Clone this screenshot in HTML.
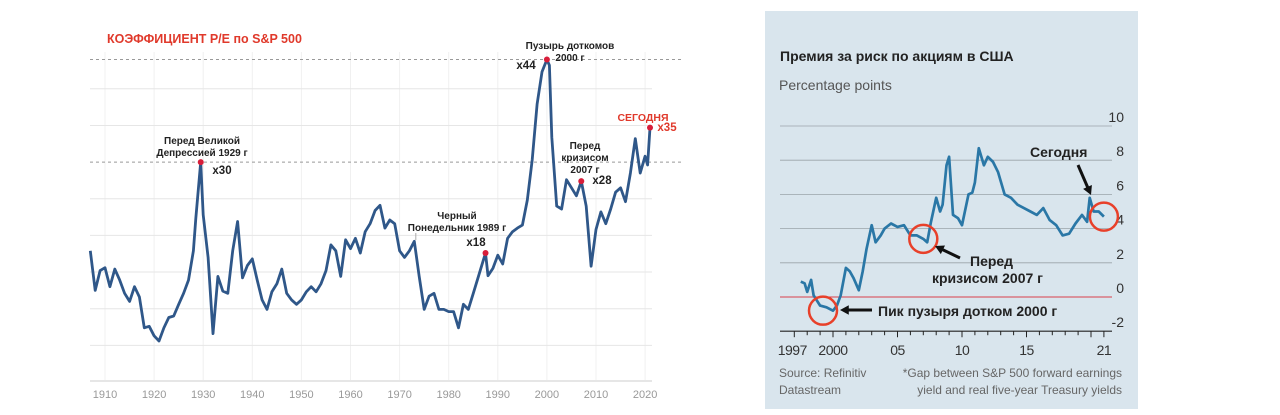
<!DOCTYPE html>
<html><head><meta charset="utf-8"><style>
html,body{margin:0;padding:0;background:#fff;}
svg{display:block;font-family:"Liberation Sans","Noto Sans CJK SC",sans-serif;}
</style></head><body>
<svg id="root" width="1280" height="415" viewBox="0 0 1280 415">
<g id="left">
<text x="107" y="43" fill="#e0392b" font-size="12.5" font-weight="bold">КОЭФФИЦИЕНТ P/E по S&amp;P 500</text>
</g>
<g id="right">
<rect x="765" y="11" width="373" height="398" fill="#d9e5ed"/>
<text x="780" y="61" fill="#222" font-size="14" font-weight="bold">Премия за риск по акциям в США</text>
<text x="779" y="90" fill="#555" font-size="14">Percentage points</text>
<text x="779" y="377" fill="#666" font-size="12">Source: Refinitiv</text>
<text x="779" y="394" fill="#666" font-size="12">Datastream</text>
<text x="1122" y="377" fill="#666" font-size="12" text-anchor="end">*Gap between S&amp;P 500 forward earnings</text>
<text x="1122" y="394" fill="#666" font-size="12" text-anchor="end">yield and real five-year Treasury yields</text>
</g>
</svg>
<script>
// ---- Left chart data ----
const peYears=[1907,1908,1909,1910,1911,1912,1913,1914,1915,1916,1917,1918,1919,1920,1921,1922,1923,1924,1925,1926,1927,1928,1928.5,1929.5,1930,1931,1932,1933,1934,1935,1936,1937,1938,1939,1940,1941,1942,1943,1944,1945,1946,1947,1948,1949,1950,1951,1952,1953,1954,1955,1956,1957,1958,1959,1960,1961,1962,1963,1964,1965,1966,1967,1968,1969,1970,1971,1972,1973,1974,1975,1976,1977,1978,1979,1980,1981,1982,1983,1984,1985,1986,1987.5,1988,1989,1990,1991,1992,1993,1994,1995,1996,1997,1998,1999,2000,2000.5,2001,2002,2003,2004,2005,2006,2007,2008,2009,2010,2011,2012,2013,2014,2015,2016,2017,2018,2019,2020,2020.5,2021];
const peValues=[17.9,12.5,15.2,15.6,13,15.4,13.9,12.1,11,13,11.6,7.4,7.6,6.3,5.6,7.4,8.8,9,10.6,12.1,13.9,17.9,22.3,30,22.8,17,6.6,14.4,12.4,12.1,17.9,21.9,14.2,15.9,16.8,13.9,11.2,9.9,12.3,13.4,15.4,12.1,11.2,10.6,11.2,12.3,13,12.3,13.4,15.2,18.7,17.9,14.4,19.4,18.2,19.6,17.6,20.5,21.6,23.4,24.1,21,22.1,21.6,17.9,17,17.9,19.2,14.4,9.9,11.7,12.1,9.9,9.9,9.6,9.6,7.4,10.6,9.9,12.1,14.3,17.6,14.5,15.5,17.3,16.1,19.6,20.5,21,21.4,24.8,30.3,37.9,42.3,44,43.2,33.4,24,23.6,27.6,26.5,25.4,27.4,24,15.8,20.8,23.2,21.6,23.6,25.9,26.5,24.6,28.5,33.2,28.5,30.8,29.6,34.7];
const peTickYears=[1910,1920,1930,1940,1950,1960,1970,1980,1990,2000,2010,2020];
const peGridValues=[5,10,15,20,25,35,40];
const peDashedValues=[30,44];
const peEventYears=[1929.5,1987.5,2000,2007,2021];
const peEventValues=[30,17.6,44,27.4,34.7];

// ---- Right chart data ----
const erpYears=[1997.5,1997.8,1998,1998.3,1998.5,1999,1999.5,2000,2000.3,2000.6,2001,2001.3,2001.6,2002,2002.3,2002.6,2003,2003.3,2003.7,2004,2004.5,2005,2005.5,2006,2006.5,2007,2007.3,2007.6,2008,2008.3,2008.5,2008.8,2009,2009.3,2009.7,2010,2010.5,2010.8,2011,2011.3,2011.7,2012,2012.4,2012.8,2013.3,2013.8,2014.3,2014.8,2015.3,2015.8,2016.3,2016.8,2017.3,2017.8,2018.3,2018.8,2019.3,2019.7,2019.9,2020.2,2020.6,2021];
const erpValues=[0.9,0.8,0.3,1.0,0.1,-0.5,-0.6,-0.8,-0.5,0.1,1.7,1.5,1.1,0.4,1.5,2.8,4.2,3.2,3.6,4.0,4.3,4.1,4.2,3.6,3.6,3.4,3.2,4.4,5.8,5.0,5.4,7.7,8.2,4.8,4.6,4.2,6.0,6.1,6.7,8.7,7.7,8.2,7.9,7.3,6.0,5.8,5.4,5.2,5.0,4.8,5.2,4.5,4.2,3.6,3.7,4.3,4.8,4.4,5.8,5.0,5.0,4.7];
const erpTicks=[-2,0,2,4,6,8,10];
const erpXLabels=["1997","2000","05","10","15","21"];
const erpXLabelYears=[1997,2000,2005,2010,2015,2021];
const erpCircleYears=[2000,2007,2021];
const erpCircleValues=[-0.8,3.4,4.7];

const NS="http://www.w3.org/2000/svg";
function mk(parent,tag,attrs,text){const e=document.createElementNS(NS,tag);for(const k in attrs)e.setAttribute(k,attrs[k]);if(text!==undefined)e.textContent=text;parent.appendChild(e);return e;}

const lx=y=>105+(y-1910)*4.91;
const ly=v=>382-v*7.33;
const L=document.getElementById('left');
peTickYears.forEach(y=>{
  const l=mk(L,'line',{x1:lx(y),x2:lx(y),y1:52,y2:380,stroke:'#f0f0f0','stroke-width':1});
  
  
  const t=mk(L,'text',{x:lx(y),y:398,'text-anchor':'middle','font-size':11,fill:'#999'},String(y));
  
  
});
peGridValues.forEach(v=>{
  const l=mk(L,'line',{x1:90,x2:652,y1:ly(v),y2:ly(v),stroke:'#e6e6e6','stroke-width':1});
  
  
});
peDashedValues.forEach(v=>{
  const l=mk(L,'line',{x1:90,x2:682,y1:ly(v),y2:ly(v),stroke:'#999','stroke-width':1,'stroke-dasharray':'3,3'});
  
  
});
const ax=mk(L,'line',{x1:90,x2:652,y1:381,y2:381,stroke:'#ddd','stroke-width':1.5});


const pePath=mk(L,'path',{d:peYears.map((y,i)=>(i?'L':'M')+lx(y).toFixed(1)+' '+ly(peValues[i]).toFixed(1)).join(' '),fill:'none',stroke:'#2f5789','stroke-width':2.8,'stroke-linejoin':'round'});


const tk=mk(L,'line',{x1:lx(1973.3),x2:lx(1973.3),y1:233,y2:240,stroke:'#aaa','stroke-width':1});


peEventYears.forEach((y,i)=>{
  const c=mk(L,'circle',{cx:lx(y),cy:ly(peEventValues[i]),r:3,fill:'#d81e3a'});
  
  
});
const notes=[
 [570,49,'Пузырь доткомов','#222',10,'middle'],[570,61,'2000 г','#222',10,'middle'],[526,69,'x44','#222',11.5,'middle'],
 [643,121,'СЕГОДНЯ','#e0392b',10.5,'middle'],[667,131,'x35','#e0392b',11.5,'middle'],
 [202,144,'Перед Великой','#222',10,'middle'],[202,156,'Депрессией 1929 г','#222',10,'middle'],[222,174,'x30','#222',11.5,'middle'],
 [585,149,'Перед','#222',10,'middle'],[585,161,'кризисом','#222',10,'middle'],[585,173,'2007 г','#222',10,'middle'],[602,184,'x28','#222',11.5,'middle'],
 [457,219,'Черный','#222',10,'middle'],[457,231,'Понедельник 1989 г','#222',10,'middle'],[476,246,'x18','#222',11.5,'middle']];
notes.forEach(n=>{
  const t=mk(L,'text',{x:n[0],y:n[1],fill:n[3],'font-size':n[4],'font-weight':'bold','text-anchor':n[5]},n[2]);
  
  
});

const rx=y=>833+(y-2000)*12.9;
const ry=v=>297-v*17.1;
const R=document.getElementById('right');
erpTicks.forEach(v=>{
  if(v>0){
    const l=mk(R,'line',{x1:780,x2:1112,y1:ry(v),y2:ry(v),stroke:'#9aa3a9','stroke-width':0.8});
    
    
  }
  const t=mk(R,'text',{x:1124,y:ry(v)-4,'text-anchor':'end','font-size':14,fill:'#333'},String(v));
  
  
});
const zl=mk(R,'line',{x1:780,x2:1112,y1:ry(0),y2:ry(0),stroke:'#d9404a','stroke-width':1});


const xa=mk(R,'line',{x1:780,x2:1112,y1:ry(-2),y2:ry(-2),stroke:'#222','stroke-width':1.2});


for(let y=1997;y<=2021;y++){
  const t=mk(R,'line',{x1:rx(y),x2:rx(y),y1:ry(-2),y2:ry(-2)+(y%5===0||y===1997||y===2021?6:4),stroke:'#222','stroke-width':1});
  
  
}
erpXLabels.forEach((s,i)=>{
  const t=mk(R,'text',{x:rx(erpXLabelYears[i])+(i===0?-2:0),y:355,'text-anchor':'middle','font-size':14,fill:'#333','letter-spacing':'-0.5'},s);
  
  
});
const erpPath=mk(R,'path',{d:erpYears.map((y,i)=>(i?'L':'M')+rx(y).toFixed(1)+' '+ry(erpValues[i]).toFixed(1)).join(' '),fill:'none',stroke:'#2a77a6','stroke-width':2.7,'stroke-linejoin':'round'});


erpCircleYears.forEach((y,i)=>{
  const c=mk(R,'circle',{cx:rx(y)-(i===0?10:0),cy:ry(erpCircleValues[i]),r:14,fill:'none',stroke:'#e8402a','stroke-width':2.5});
  
  
});
function arrow(x1,y1,x2,y2){
  const a=Math.atan2(y2-y1,x2-x1),h=10;
  const g=mk(R,'g',{});
  
  
  mk(g,'line',{x1,y1,x2:x2-Math.cos(a)*6,y2:y2-Math.sin(a)*6,stroke:'#111','stroke-width':3});
  mk(g,'polygon',{points:`${x2},${y2} ${x2-h*Math.cos(a-0.5)},${y2-h*Math.sin(a-0.5)} ${x2-h*Math.cos(a+0.5)},${y2-h*Math.sin(a+0.5)}`,fill:'#111'});
}
arrow(872,310,840,310);
arrow(960,258,935,246);
arrow(1078,165,1091,195);
[[878,316,'Пик пузыря дотком 2000 г','start'],[970,266,'Перед','start'],[932,283,'кризисом 2007 г','start'],[1030,157,'Сегодня','start']].forEach(n=>{
  const t=mk(R,'text',{x:n[0],y:n[1],'font-size':14,'font-weight':'bold',fill:'#222','text-anchor':n[3]},n[2]);
  
  
});
</script>
</body></html>
